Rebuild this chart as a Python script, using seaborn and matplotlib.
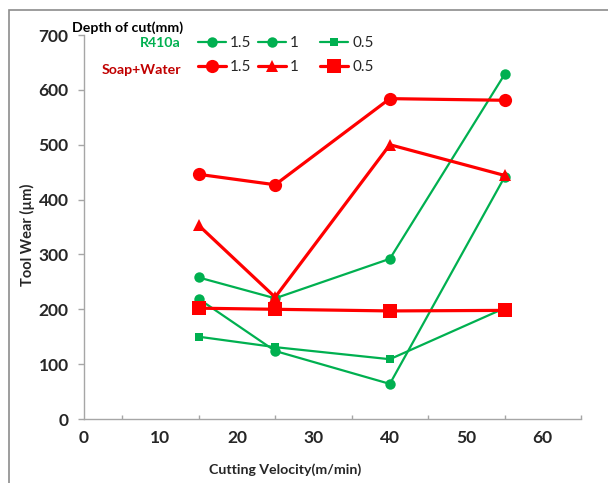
import matplotlib
matplotlib.use("Agg")
import matplotlib.pyplot as plt
from matplotlib.patches import Rectangle
from matplotlib.ticker import MultipleLocator
import seaborn as sns
import pandas as pd

# Cutting velocity (m/min)
velocity = [15, 25, 40, 55]

# Tool wear (µm) with R410a coolant, per depth of cut
r410a_15 = [258, 220, 292, 628]
r410a_10 = [219, 124, 64, 441]
r410a_05 = [150, 131, 109, 202]

# Tool wear (µm) with soap+water coolant, per depth of cut
soap_15 = [446, 427, 584, 581]
soap_10 = [353, 222, 500, 444]
soap_05 = [202, 200, 197, 198]

depth_labels = ["1.5", "1", "0.5"]
group_labels = ["R410a", "Soap+Water"]

GREEN = "#00B050"
RED = "#FF0000"
AXIS_GRAY = "#A6A6A6"

sns.set_theme(style="white")
plt.rcParams["font.family"] = ["Lato", "DejaVu Sans"]

fig = plt.figure(figsize=(6.08, 4.83), dpi=100)
ax = fig.add_axes([84 / 608, 1 - 419 / 483, (581 - 84) / 608, (419 - 35) / 483])

series = [
    (r410a_15, GREEN, "o", 7.5, 1.6),
    (r410a_10, GREEN, "o", 7.5, 1.6),
    (r410a_05, GREEN, "s", 5.5, 1.6),
    (soap_15, RED, "o", 9.5, 2.3),
    (soap_10, RED, "^", 9.0, 2.3),
    (soap_05, RED, "s", 9.5, 2.3),
]

handles = []
for values, color, marker, ms, lw in series:
    df = pd.DataFrame({"v": velocity, "w": values})
    sns.lineplot(data=df, x="v", y="w", ax=ax, color=color, marker=marker,
                 markersize=ms, linewidth=lw, markeredgewidth=0, sort=False)
    handles.append(ax.lines[-1])

ax.set_xlim(0, 65)
ax.set_ylim(0, 700)
ax.xaxis.set_major_locator(MultipleLocator(10))
ax.xaxis.set_minor_locator(MultipleLocator(5))
ax.yaxis.set_major_locator(MultipleLocator(100))

for side in ["top", "right"]:
    ax.spines[side].set_visible(False)
for side in ["left", "bottom"]:
    ax.spines[side].set_color(AXIS_GRAY)
    ax.spines[side].set_linewidth(1.0)

ax.tick_params(axis="x", which="major", direction="inout", length=7.5, width=1,
               color=AXIS_GRAY, pad=4, labelsize=12.5)
ax.tick_params(axis="x", which="minor", direction="in", length=3, width=1,
               color=AXIS_GRAY, bottom=True)
ax.tick_params(axis="y", which="major", direction="out", length=4, width=1,
               color=AXIS_GRAY, pad=7, labelsize=12.5, left=True)
for lab in ax.get_xticklabels() + ax.get_yticklabels():
    lab.set_fontweight("bold")

ax.set_xlabel("Cutting Velocity(m/min)", fontsize=10.2, fontweight="bold")
ax.set_ylabel("Tool Wear (µm)", fontsize=10.5, fontweight="bold")
ax.xaxis.set_label_coords((285 - 84) / 497, -(470 - 419) / 384, transform=ax.transAxes)
ax.xaxis.label.set_va("center")
ax.yaxis.set_label_coords(-(84 - 27) / 497, 0.48, transform=ax.transAxes)
ax.yaxis.label.set_va("center")

# Legend: one column per depth of cut, each column holding both coolants
col_x = [198, 258, 320]
for i, x in enumerate(col_x):
    leg = fig.legend([handles[i], handles[i + 3]], [depth_labels[i], depth_labels[i]],
                     frameon=False, loc="upper left",
                     bbox_to_anchor=(x / 608, 1 - 36 / 483), fontsize=11,
                     handlelength=1.8, handletextpad=0.3, labelspacing=0.66,
                     borderpad=0, borderaxespad=0)

fig.text(72 / 608, 1 - 28 / 483, "Depth of cut(mm)", fontsize=10.2, fontweight="bold",
         color="black", ha="left", va="center")
fig.text(181 / 608, 1 - 43 / 483, group_labels[0], fontsize=10.2, fontweight="bold",
         color=GREEN, ha="right", va="center")
fig.text(181 / 608, 1 - 70 / 483, group_labels[1], fontsize=10.2, fontweight="bold",
         color="#C00000", ha="right", va="center")

# Outer chart frame
fig.patches.append(Rectangle((9 / 608, -0.1), 1.2, 1 - 10 / 483 + 0.1,
                             transform=fig.transFigure, fill=False,
                             edgecolor="#8C8C8C", linewidth=1.2))

fig.savefig("out.png", dpi=100)
